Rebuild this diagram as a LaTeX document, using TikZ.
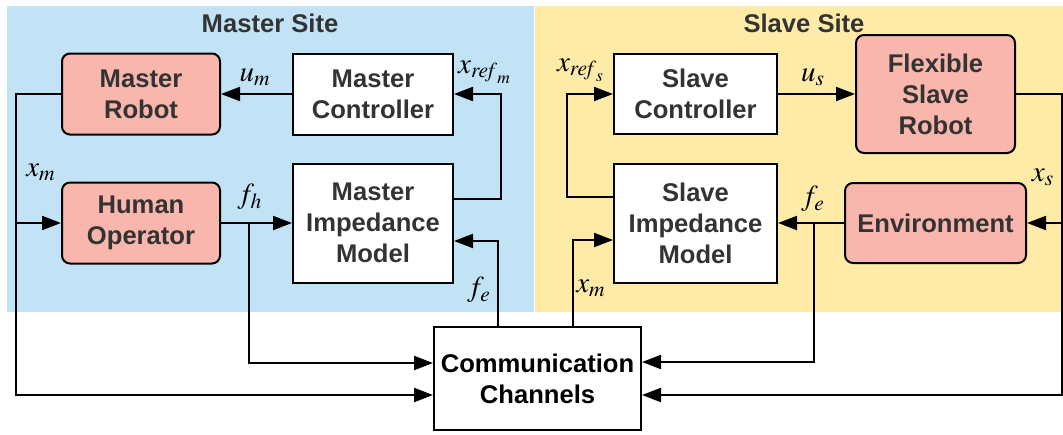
\documentclass[tikz,border=0pt]{standalone}
\usepackage{mathptmx}
\usepackage{fontspec}
\setmainfont{Liberation Sans}
\usetikzlibrary{positioning,arrows.meta}

\definecolor{masterblue}{RGB}{194,226,245}
\definecolor{slaveyellow}{RGB}{255,235,168}
\definecolor{plantred}{RGB}{248,182,172}
\definecolor{textgray}{RGB}{51,51,51}

\begin{document}
\begin{tikzpicture}[x=0.5pt,y=-0.5pt,line width=1pt,>={Triangle[length=9.5pt,width=7pt]}]
\tikzset{block/.style={draw,fill=white,align=center,inner sep=0pt,text=textgray,font=\bfseries\fontsize{12.8}{15.5}\selectfont},
plant/.style={block,fill=plantred,rounded corners=4pt},
sig/.style={font=\fontsize{14.5}{16}\selectfont,inner sep=0pt},
site/.style={text=textgray,font=\bfseries\fontsize{12.8}{15}\selectfont}}
\useasboundingbox (0,0) rectangle (1063,434);

% ---------- sites ----------
\fill[masterblue] (7,6) rectangle (534,312);
\fill[slaveyellow] (535,6) rectangle (1063,312);
\node[site] (MS) at (270,23) {Master Site};
\node[site] (SS) at (804,23) {Slave Site};

% ---------- master side ----------
\node[plant,minimum width=79pt,minimum height=40.5pt] (MR) at (141,94) {Master\\Robot};
\node[block,minimum width=80pt,minimum height=40.5pt] (MC) at (373,94) {Master\\Controller};
\node[plant,minimum width=79pt,minimum height=40.5pt] (HO) at (141,223) {Human\\Operator};
\node[block,minimum width=80pt,minimum height=59.5pt] (MI) at (373,223) {Master\\Impedance\\Model};

% ---------- slave side ----------
\node[block,minimum width=81.5pt,minimum height=40pt] (SC) at (695.5,94) {Slave\\Controller};
\node[plant,minimum width=79.5pt,minimum height=59pt] (FSR) at (935.5,94) {Flexible\\Slave\\Robot};
\node[block,minimum width=81.5pt,minimum height=59.5pt] (SI) at (695.5,223) {Slave\\Impedance\\Model};
\node[plant,minimum width=90.5pt,minimum height=40pt] (ENV) at (935.5,223) {Environment};

% ---------- channels ----------
\node[block,text=black,minimum width=103.5pt,minimum height=51.5pt] (CC) at (537.5,378.5) {Communication\\Channels};

\coordinate (xL) at (16,395);
\coordinate (xR) at (1062,395);
\coordinate (fhB) at (249,363);
\coordinate (feB) at (814,362);
\coordinate (refM) at (501,94);
\coordinate (refS) at (567,94);
\coordinate (feM) at (498,241);
\coordinate (xmS) at (573,240);

\draw[->] (MR.west) -| (xL) -- (xL -| CC.west);
\draw[->] (xL |- HO.west) -- (HO.west);
\draw[->] (MC.west) -- (MR.east);
\draw[->] (HO.east) -- (MI.west);
\draw[->] (HO.east -| fhB) -- (fhB) -- (fhB -| CC.west);
\draw[->] ([yshift=12pt]MI.east) -| (refM) -- (MC.east);
\draw[->] (CC.north -| feM) -- (feM) -- (feM -| MI.east);
\draw[->] (CC.north -| xmS) -- (xmS) -- (xmS -| SI.west);
\draw[->] ([yshift=13pt]SI.west) -| (refS) -- (SC.west);
\draw[->] (SC.east) -- (FSR.west);
\draw[->] (FSR.east) -| (xR) -- (xR -| CC.east);
\draw[->] (xR |- ENV.east) -- (ENV.east);
\draw[->] (ENV.west) -- (SI.east);
\draw[->] (ENV.west -| feB) -- (feB) -- (feB -| CC.east);

% ---------- signals ----------
\node[sig] (um) at (255,77) {$u_m$};
\node[sig] (xrefm) at (485,72) {$x_{\mathit{ref}_m}$};
\node[sig] (xm1) at (41,172) {$x_m$};
\node[sig] (fh) at (250,197) {$f_h$};
\node[sig] (fe1) at (479,290) {$f_e$};
\node[sig] (xrefs) at (581,70) {$x_{\mathit{ref}_s}$};
\node[sig] (us) at (813,77) {$u_s$};
\node[sig] (xs) at (1043,177) {$x_s$};
\node[sig] (fe2) at (813,199) {$f_e$};
\node[sig] (xm2) at (591,288) {$x_m$};

\end{tikzpicture}
\end{document}
